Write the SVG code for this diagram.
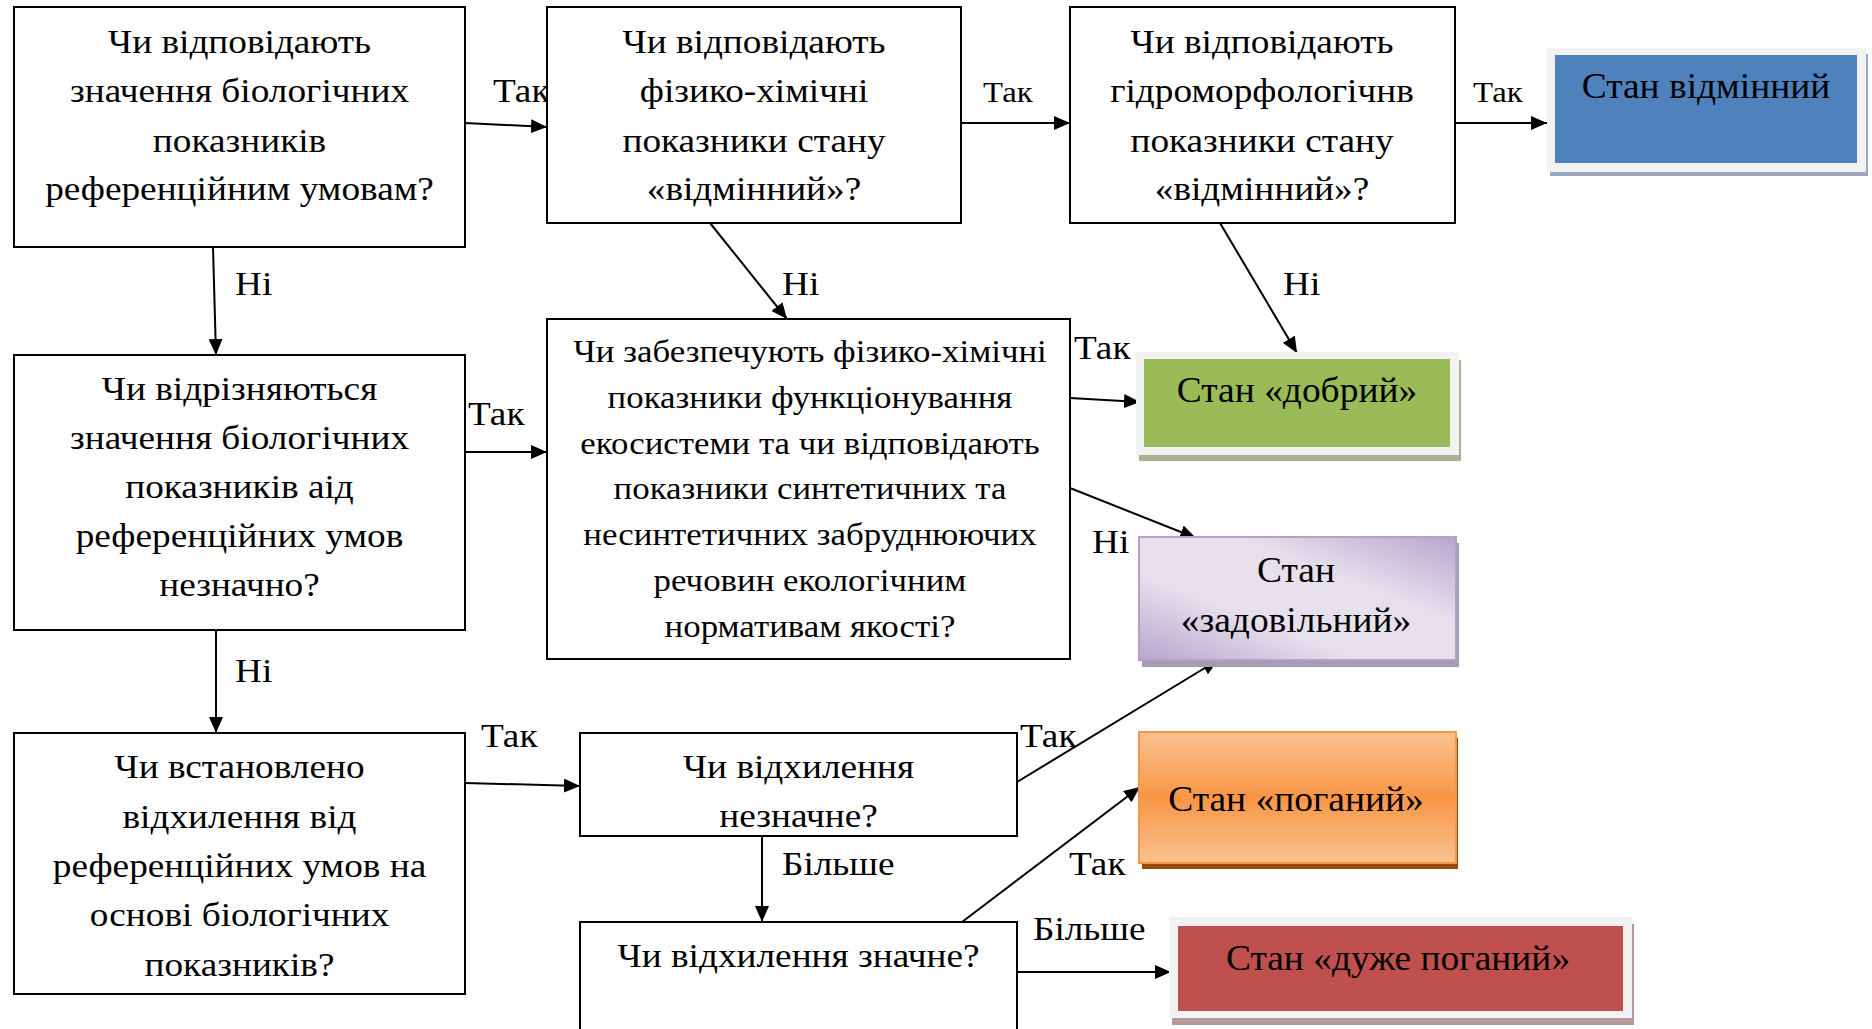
<svg xmlns="http://www.w3.org/2000/svg" width="1872" height="1029" viewBox="0 0 1872 1029">
<style>
.box{fill:#fff;stroke:#000;stroke-width:2}
.t{font-family:"Liberation Serif","Times New Roman",serif;font-size:33px;text-anchor:middle;fill:#000}
.t5{font-size:31px}
.lbl{font-family:"Liberation Serif","Times New Roman",serif;font-size:33px;fill:#000}
.lbs{font-size:29px}
.con{stroke:#000;stroke-width:2;fill:none;marker-end:url(#ah)}
.st{font-family:"Liberation Serif","Times New Roman",serif;font-size:35px;text-anchor:middle;fill:#000}
</style>
<defs>
<marker id="ah" markerUnits="userSpaceOnUse" markerWidth="16" markerHeight="14" viewBox="0 0 16 14" refX="16" refY="7" orient="auto">
<path d="M0,0 L16,7 L0,14 z" fill="#000"/>
</marker>
<linearGradient id="gLilac" x1="1" y1="0" x2="0" y2="1">
<stop offset="0" stop-color="#b6a6cc"/>
<stop offset="0.35" stop-color="#e6e0ed"/>
<stop offset="0.65" stop-color="#e6e0ed"/>
<stop offset="1" stop-color="#b6a6cc"/>
</linearGradient>
<linearGradient id="gOrange" x1="0" y1="0" x2="0" y2="1">
<stop offset="0" stop-color="#fac291"/>
<stop offset="0.5" stop-color="#f79646"/>
<stop offset="1" stop-color="#fac291"/>
</linearGradient>
</defs>
<rect width="1872" height="1029" fill="#fff"/>

<g id="connectors">
<line class="con" x1="465" y1="123" x2="547" y2="127"/>
<text class="lbl" transform="matrix(1.13 0 0 1 493 0)" y="102">Так</text>
<line class="con" x1="961" y1="123" x2="1070" y2="123"/>
<text class="lbl lbs" transform="matrix(1.13 0 0 1 983 0)" y="102">Так</text>
<line class="con" x1="1455" y1="123" x2="1547" y2="123"/>
<text class="lbl lbs" transform="matrix(1.13 0 0 1 1473 0)" y="102">Так</text>
<line class="con" x1="213" y1="247" x2="216" y2="355"/>
<text class="lbl" transform="matrix(1.13 0 0 1 235 0)" y="295">Ні</text>
<line class="con" x1="710" y1="223" x2="787" y2="319"/>
<text class="lbl" transform="matrix(1.13 0 0 1 782 0)" y="295">Ні</text>
<line class="con" x1="1220" y1="223" x2="1297" y2="353"/>
<text class="lbl" transform="matrix(1.13 0 0 1 1283 0)" y="295">Ні</text>
<line class="con" x1="465" y1="452" x2="547" y2="452"/>
<text class="lbl" transform="matrix(1.13 0 0 1 468 0)" y="425">Так</text>
<line class="con" x1="1070" y1="398" x2="1140" y2="402"/>
<text class="lbl" transform="matrix(1.13 0 0 1 1074 0)" y="359">Так</text>
<line class="con" x1="1070" y1="488" x2="1196" y2="538"/>
<text class="lbl" transform="matrix(1.13 0 0 1 1092 0)" y="553">Ні</text>
<line class="con" x1="216" y1="630" x2="216" y2="733"/>
<text class="lbl" transform="matrix(1.13 0 0 1 235 0)" y="682">Ні</text>
<line class="con" x1="465" y1="783" x2="580" y2="786"/>
<text class="lbl" transform="matrix(1.13 0 0 1 481 0)" y="747">Так</text>
<line class="con" x1="1017" y1="782" x2="1218" y2="660"/>
<text class="lbl" transform="matrix(1.13 0 0 1 1020 0)" y="747">Так</text>
<line class="con" x1="762" y1="836" x2="762" y2="922"/>
<text class="lbl" transform="matrix(1.13 0 0 1 782 0)" y="875">Більше</text>
<line class="con" x1="962" y1="922" x2="1140" y2="787"/>
<text class="lbl" transform="matrix(1.13 0 0 1 1069 0)" y="875">Так</text>
<line class="con" x1="1017" y1="972" x2="1171" y2="972"/>
<text class="lbl" transform="matrix(1.13 0 0 1 1033 0)" y="940">Більше</text>
</g>

<g id="q1">
<rect class="box" x="14" y="7" width="451" height="240"/>
<g transform="matrix(1.13 0 0 1 239.5 0)">
<text class="t" x="0" y="53">Чи відповідають</text>
<text class="t" x="0" y="102">значення біологічних</text>
<text class="t" x="0" y="152">показників</text>
<text class="t" x="0" y="200">референційним умовам?</text>
</g>
</g>
<g id="q2">
<rect class="box" x="547" y="7" width="414" height="216"/>
<g transform="matrix(1.13 0 0 1 754 0)">
<text class="t" x="0" y="53">Чи відповідають</text>
<text class="t" x="0" y="102">фізико-хімічні</text>
<text class="t" x="0" y="152">показники стану</text>
<text class="t" x="0" y="200">«відмінний»?</text>
</g>
</g>
<g id="q3">
<rect class="box" x="1070" y="7" width="385" height="216"/>
<g transform="matrix(1.13 0 0 1 1262 0)">
<text class="t" x="0" y="53">Чи відповідають</text>
<text class="t" x="0" y="102">гідроморфологічнв</text>
<text class="t" x="0" y="152">показники стану</text>
<text class="t" x="0" y="200">«відмінний»?</text>
</g>
</g>
<g id="s-excellent">
<rect x="1550" y="54" width="318" height="122" fill="#9aa7c1"/>
<rect x="1547" y="48" width="319" height="124" fill="#f2f2f2"/>
<rect x="1555" y="55" width="302" height="108" fill="#4f81bd"/>
<text class="st" transform="matrix(1.07 0 0 1 1706 0)" x="0" y="98">Стан відмінний</text>
</g>
<g id="q4">
<rect class="box" x="14" y="355" width="451" height="275"/>
<g transform="matrix(1.13 0 0 1 239.5 0)">
<text class="t" x="0" y="400">Чи відрізняються</text>
<text class="t" x="0" y="449">значення біологічних</text>
<text class="t" x="0" y="498">показників аід</text>
<text class="t" x="0" y="547">референційних умов</text>
<text class="t" x="0" y="596">незначно?</text>
</g>
</g>
<g id="q5">
<rect class="box" x="547" y="319" width="523" height="340"/>
<g transform="matrix(1.125 0 0 1 810 0)">
<text class="t t5" x="0" y="362">Чи забезпечують фізико-хімічні</text>
<text class="t t5" x="0" y="408">показники функціонування</text>
<text class="t t5" x="0" y="454">екосистеми та чи відповідають</text>
<text class="t t5" x="0" y="499">показники синтетичних та</text>
<text class="t t5" x="0" y="545">несинтетичних забруднюючих</text>
<text class="t t5" x="0" y="591">речовин екологічним</text>
<text class="t t5" x="0" y="637">нормативам якості?</text>
</g>
</g>
<g id="s-good">
<rect x="1139" y="360" width="322" height="101" fill="#a8b28e"/>
<rect x="1136" y="352" width="323" height="103" fill="#f2f2f2"/>
<rect x="1144" y="359" width="306" height="88" fill="#9bbb59"/>
<text class="st" transform="matrix(1.07 0 0 1 1297 0)" x="0" y="402">Стан «добрий»</text>
</g>
<g id="s-satisfactory">
<rect x="1142" y="543" width="317" height="124" fill="#a69cb2"/>
<rect x="1139" y="537" width="317" height="123" fill="url(#gLilac)" stroke="#b3a2c7" stroke-width="2"/>
<g transform="matrix(1.07 0 0 1 1296 0)">
<text class="st" x="0" y="582">Стан</text>
<text class="st" x="0" y="632">«задовільний»</text>
</g>
</g>
<g id="q6">
<rect class="box" x="14" y="733" width="451" height="261"/>
<g transform="matrix(1.13 0 0 1 239.5 0)">
<text class="t" x="0" y="778">Чи встановлено</text>
<text class="t" x="0" y="828">відхилення від</text>
<text class="t" x="0" y="877">референційних умов на</text>
<text class="t" x="0" y="926">основі біологічних</text>
<text class="t" x="0" y="976">показників?</text>
</g>
</g>
<g id="q7">
<rect class="box" x="580" y="733" width="437" height="103"/>
<g transform="matrix(1.13 0 0 1 798.5 0)">
<text class="t" x="0" y="778">Чи відхилення</text>
<text class="t" x="0" y="827">незначне?</text>
</g>
</g>
<g id="q8">
<rect class="box" x="580" y="922" width="437" height="130"/>
<text class="t" transform="matrix(1.13 0 0 1 798.5 0)" x="0" y="967">Чи відхилення значне?</text>
</g>
<g id="s-bad">
<rect x="1142" y="738" width="316" height="131" fill="#984807"/>
<rect x="1139" y="732" width="317" height="131" fill="url(#gOrange)" stroke="#f79646" stroke-width="2"/>
<text class="st" transform="matrix(1.07 0 0 1 1296 0)" x="0" y="811">Стан «поганий»</text>
</g>
<g id="s-verybad">
<rect x="1172" y="924" width="462" height="101" fill="#b59898"/>
<rect x="1169" y="917" width="463" height="101" fill="#f2f2f2"/>
<rect x="1178" y="926" width="445" height="85" fill="#c0504d"/>
<text class="st" transform="matrix(1.07 0 0 1 1398 0)" x="0" y="970">Стан «дуже поганий»</text>
</g>
</svg>
